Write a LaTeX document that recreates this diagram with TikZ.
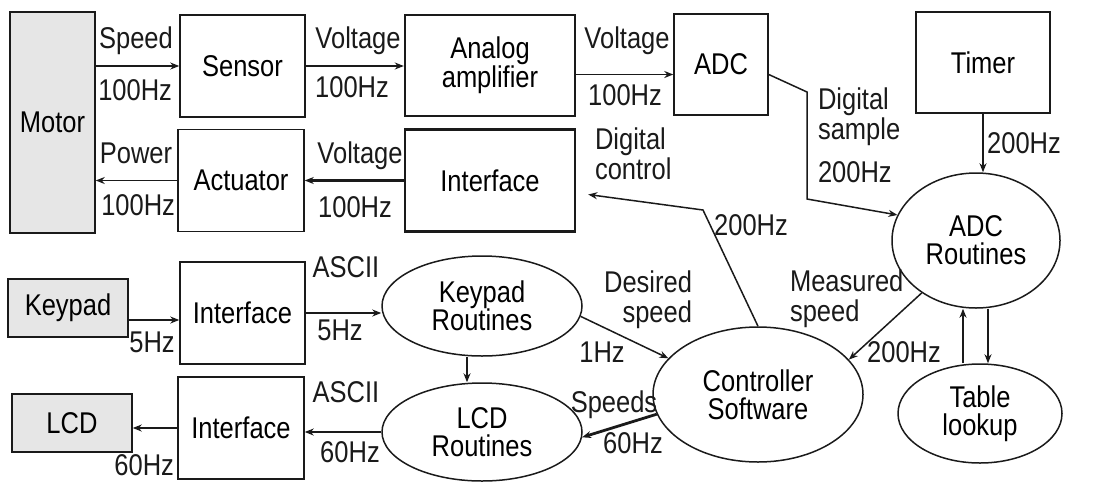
\documentclass[tikz,border=0pt]{standalone}
\usepackage{fontspec}
\setmainfont{Liberation Sans}[FakeStretch=0.85]
\usepackage{tikz}
\usetikzlibrary{positioning,shapes.geometric,arrows.meta}
\definecolor{ink}{HTML}{1A1A1A}
\definecolor{hw}{HTML}{E6E6E6}
\tikzset{
  blk/.style     = {draw=ink, line width=1.5pt, inner sep=0pt, align=center, font=\fontsize{30}{29}\selectfont},
  blkhw/.style   = {blk, fill=hw},
  blkheavy/.style= {blk, line width=2.4pt},
  rout/.style    = {ellipse, draw=ink, line width=1.5pt, inner sep=0pt, align=center, font=\fontsize{30}{28}\selectfont},
  lbl/.style     = {font=\fontsize{30}{30}\selectfont, text=ink, inner sep=0pt, outer sep=0pt, anchor=base},
  lbltwo/.style  = {font=\fontsize{30}{30}\selectfont, text=ink, inner sep=0pt, outer sep=0pt},
  flow/.style    = {-{Stealth[length=9pt,width=7pt]}, draw=ink, line width=1.5pt},
  flowb/.style   = {flow, line width=2.8pt},
}
\begin{document}
\begin{tikzpicture}[x=1pt,y=-1pt]
\path[use as bounding box] (0,0) rectangle (1107,488);

% ---- hardware loop ------------------------------------------------------
\node[blkhw, minimum width=85pt, minimum height=221pt]     (motor)  at (52.5,122.5) {Motor};
\node[blk, minimum width=125pt, minimum height=102pt]      (sensor) at (242.5,66)   {Sensor};
\node[blkheavy, minimum width=170pt, minimum height=101pt] (amp)    at (490,65.5)   {Analog\\amplifier};
\node[blk, minimum width=94pt, minimum height=101pt]       (adc)    at (721,64.5)   {ADC};
\node[blkheavy, minimum width=134pt, minimum height=101pt] (timer)  at (983,62.5)   {Timer};
\node[blk, minimum width=126pt, minimum height=102pt]      (act)    at (241,180.5)  {Actuator};
\node[blkheavy, minimum width=170pt, minimum height=102pt] (iface1) at (490,180.5)  {Interface};

\draw[flow]  (sensor.west -| motor.east) -- (sensor.west);
\draw[flowb] (sensor.east) -- (amp.west |- sensor.east);
\draw[flow]  ([yshift=-9pt]amp.east) -- ([yshift=-9pt]amp.east -| adc.west);
\draw[flow]  (act.west) -- (act.west -| motor.east);
\draw[flowb] (iface1.west) -- (iface1.west -| act.east);

\node[lbl] (lspeed) at (136,48)  {Speed};
\node[lbl, anchor=base east] (lhz1) at (172,100) {100Hz};
\node[lbl] (lvolt1) at (358,48)  {Voltage};
\node[lbl] (lhz2)   at (352,97)  {100Hz};
\node[lbl] (lvolt2) at (627,48)  {Voltage};
\node[lbl] (lhz3)   at (625,105) {100Hz};
\node[lbl] (lpower) at (136,163) {Power};
\node[lbl, anchor=base east] (lhz4) at (175,215) {100Hz};
\node[lbl] (lvolt3) at (360,163) {Voltage};
\node[lbl] (lhz5)   at (355,217) {100Hz};

% ---- keypad and display -------------------------------------------------
\node[blkhw, minimum width=120pt, minimum height=58pt] (keypad) at (68,308)    {Keypad};
\node[blk, minimum width=125pt, minimum height=102pt]  (iface2) at (242.5,313) {Interface};
\node[blkhw, minimum width=120pt, minimum height=58pt] (lcd)    at (72,423)    {LCD};
\node[blk, minimum width=126pt, minimum height=102pt]  (iface3) at (241,428)   {Interface};

% ---- software -----------------------------------------------------------
\node[rout, minimum width=200pt, minimum height=100pt] (keyr) at (482,306)   {Keypad\\Routines};
\node[rout, minimum width=200pt, minimum height=98pt]  (lcdr) at (482,432)   {LCD\\Routines};
\node[rout, minimum width=210pt, minimum height=135pt] (ctrl) at (758,394.5) {Controller\\Software};
\node[rout, minimum width=168pt, minimum height=135pt] (adcr) at (976,240.5) {ADC\\Routines};
\node[rout, minimum width=164pt, minimum height=99pt]  (tbl)  at (980,413.5) {Table\\lookup};

\coordinate (sbendi)  at (807,92);
\coordinate (sbendii) at (807,199);
\coordinate (cbend)   at (703,210);

\draw[flow]  ([yshift=-10pt]adc.east) -- (sbendi) -- (sbendii) -- (adcr.162);
\draw[flow]  (timer.south) -- (timer.south |- adcr.north);
\draw[flow]  (ctrl.north) -- (cbend) -- ([xshift=12pt,yshift=-14pt]iface1.east);
\draw[flowb] ([yshift=-12pt]keypad.east) -- ([yshift=-12pt]keypad.east -| iface2.west);
\draw[flow]  (iface2.east) -- (iface2.east -| keyr.west);
\draw[flow]  ([xshift=-15pt]keyr.south) -- ([xshift=-15pt]lcdr.north);
\draw[flow]  (keyr.-6) -- (ctrl.158);
\draw[flow]  (adcr.224) -- (ctrl.21);
\draw[flowb] (ctrl.191) -- (lcdr.357);
\draw[flow]  (lcdr.west) -- (lcdr.west -| iface3.east);
\draw[flowb] (iface3.west) -- (iface3.west -| lcd.east);
\draw[flow]  ([xshift=-17pt]tbl.north) -- ([xshift=-17pt]tbl.north |- adcr.south);
\draw[flowb] ([xshift=8pt]tbl.north |- adcr.south) -- ([xshift=8pt]tbl.north);

\node[lbltwo, anchor=north west, align=left]  (lsample)  at (818,88)  {Digital\\sample};
\node[lbl, anchor=base west] (lhzs) at (818,182) {200Hz};
\node[lbl] (lhzt)     at (1024,153) {200Hz};
\node[lbltwo, anchor=north west, align=left]  (lcontrol) at (595,128) {Digital\\control};
\node[lbl] (lhzc)     at (751,235) {200Hz};
\node[lbl] (lascii1)  at (346,277) {ASCII};
\node[lbl] (lhzk)     at (152,352) {5Hz};
\node[lbl] (lhzi)     at (340,340) {5Hz};
\node[lbl] (lascii2)  at (346,402) {ASCII};
\node[lbl] (lhzl)     at (350,462) {60Hz};
\node[lbl, anchor=base east] (lhzd) at (174,475) {60Hz};
\node[lbltwo, anchor=north east, align=right] (ldesired) at (692,271) {Desired\\speed};
\node[lbl] (lhzdes)   at (602,362) {1Hz};
\node[lbltwo, anchor=north west, align=left]  (lmeas)    at (790,270) {Measured\\speed};
\node[lbl] (lhzm)     at (904,362) {200Hz};
\node[lbl] (lspeeds)  at (614,412) {Speeds};
\node[lbl] (lhzsp)    at (633,453) {60Hz};

\end{tikzpicture}
\end{document}
